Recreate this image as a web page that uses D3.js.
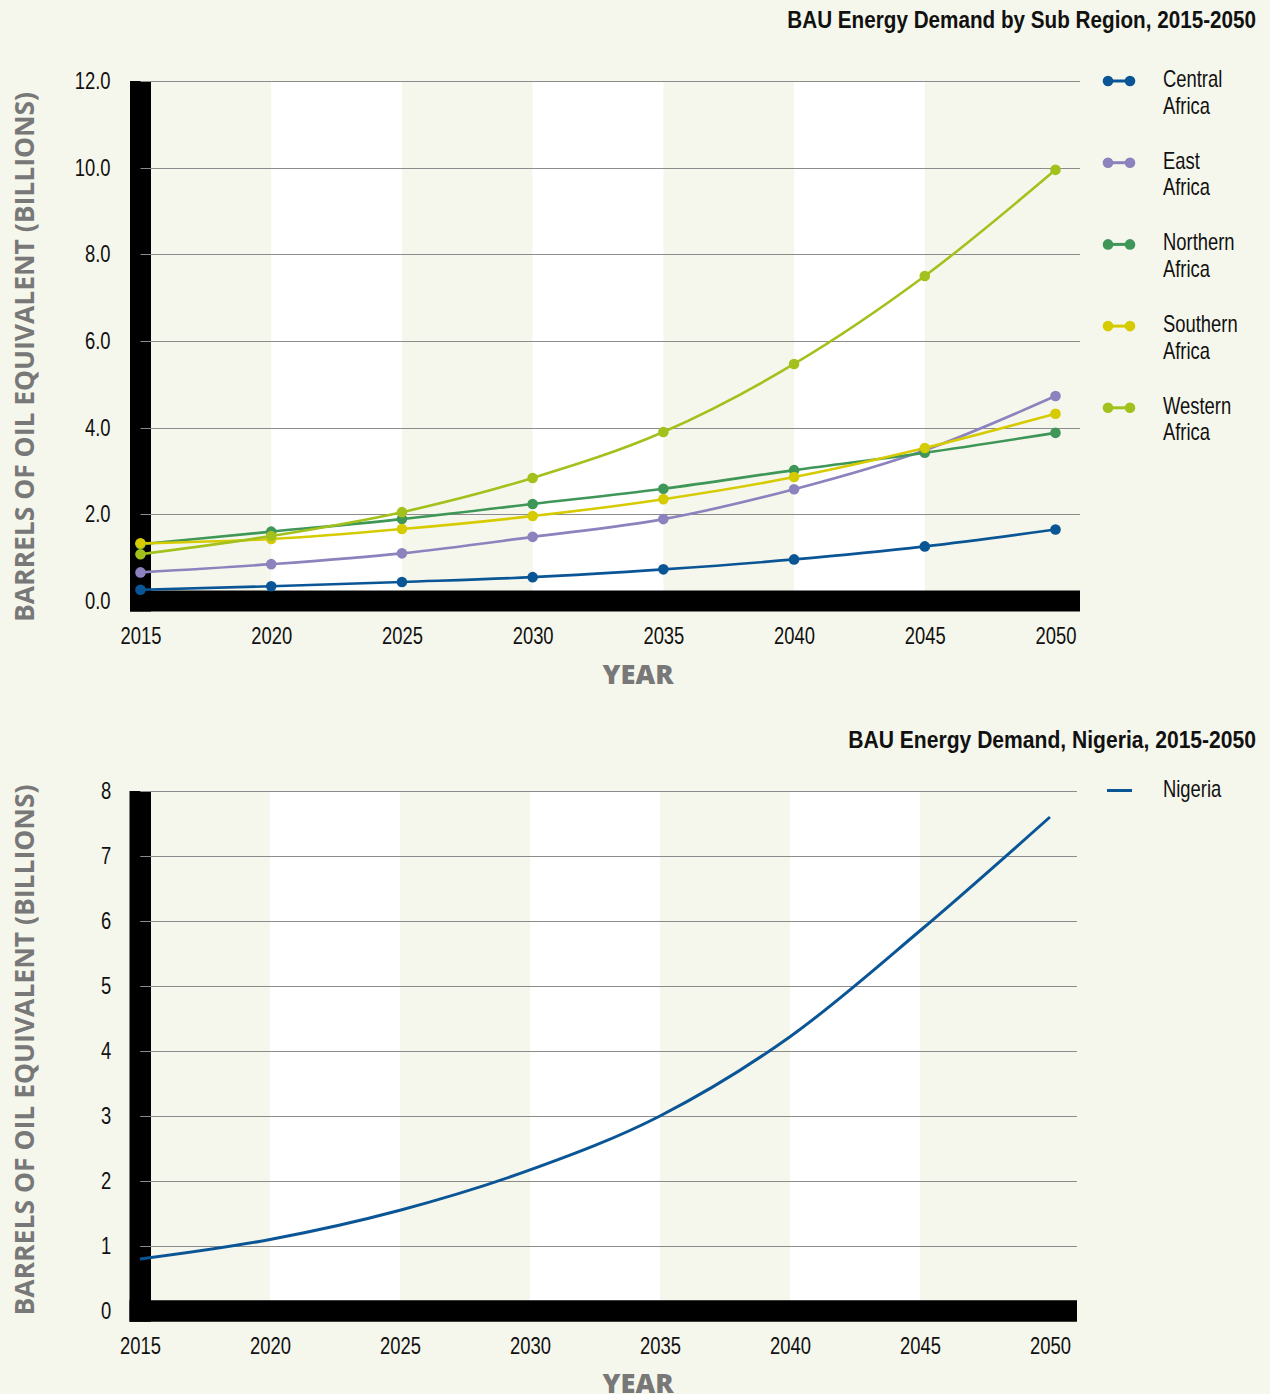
<!DOCTYPE html>
<html>
<head>
<meta charset="utf-8">
<script src="https://cdn.jsdelivr.net/npm/d3@7"></script>
<style>
  html, body { margin: 0; padding: 0; background: #f6f7ec; }
  svg { display: block; }
  text { font-family: "Liberation Sans", Arial, sans-serif; }
</style>
</head>
<body>
<svg id="chart" width="1270" height="1394"></svg>
<script>
// ---------- DATA ----------
const years = [2015, 2020, 2025, 2030, 2035, 2040, 2045, 2050];

const regionNames = ["Central Africa", "East Africa", "Northern Africa", "Southern Africa", "Western Africa"];
const centralAfrica  = [0.26, 0.34, 0.44, 0.55, 0.73, 0.96, 1.26, 1.65];
const eastAfrica     = [0.66, 0.85, 1.10, 1.48, 1.89, 2.58, 3.48, 4.73];
const northernAfrica = [1.31, 1.60, 1.89, 2.24, 2.59, 3.02, 3.42, 3.88];
const southernAfrica = [1.33, 1.43, 1.66, 1.96, 2.35, 2.86, 3.53, 4.32];
const westernAfrica  = [1.08, 1.50, 2.05, 2.84, 3.90, 5.47, 7.50, 9.95];
const regionColors = ["#0a5596", "#8b82be", "#3e9657", "#d6cb00", "#a2c11c"];

const nigeria = [0.80, 1.10, 1.55, 2.17, 3.00, 4.22, 5.85, 7.60];
const nigeriaColor = "#0a5596";

const topTicks = [0, 2, 4, 6, 8, 10, 12];
const bottomTicks = [0, 1, 2, 3, 4, 5, 6, 7, 8];

const topTitle = "BAU Energy Demand by Sub Region, 2015-2050";
const bottomTitle = "BAU Energy Demand, Nigeria, 2015-2050";
const yTitle = "BARRELS OF OIL EQUIVALENT (BILLIONS)";
const xTitle = "YEAR";

// ---------- DRAW ----------
const svg = d3.select("#chart");
const SQ = 0.8; // horizontal condensing of the narrow label font

function narrowText(parent, x, y, str, size, opts = {}) {
  const gg = parent.append("g").attr("transform", `translate(${x},${y})`);
  const t = gg.append("text")
    .attr("font-size", size)
    .attr("font-weight", opts.weight || 400)
    .attr("fill", opts.fill || "#111")
    .attr("text-anchor", opts.anchor || "start")
    .text(str);
  let s = SQ;
  if (opts.width) {
    const len = t.node().getComputedTextLength();
    s = opts.width / len;
  }
  t.attr("transform", `scale(${s},1)`);
  return t;
}

function drawPanel(cfg) {
  const g = svg.append("g");
  const x = d3.scaleLinear().domain([years[0], years[years.length - 1]]).range(cfg.xRange);
  const y = d3.scaleLinear().domain([0, d3.max(cfg.ticks)]).range(cfg.yRange);
  const left = cfg.barLeft, right = cfg.plotRight;
  const top = y(d3.max(cfg.ticks)), base = y(0);

  // alternating bands
  for (let i = 0; i < years.length - 1; i++) {
    if (i % 2 === 1) {
      g.append("rect")
        .attr("x", x(years[i])).attr("y", top)
        .attr("width", x(years[i + 1]) - x(years[i]))
        .attr("height", base - top)
        .attr("fill", "#ffffff");
    }
  }

  // black axis bars
  const bw = cfg.barWidth;
  g.append("rect").attr("x", left).attr("y", top).attr("width", bw).attr("height", base + bw / 2 - top).attr("fill", "#000");
  g.append("rect").attr("x", left).attr("y", base - bw / 2).attr("width", right - left).attr("height", bw).attr("fill", "#000");

  // gridlines
  g.append("g").selectAll("line")
    .data(cfg.ticks.filter(t => t > 0))
    .join("line")
    .attr("x1", left + bw / 2).attr("x2", right)
    .attr("y1", d => Math.round(y(d)) + 0.5).attr("y2", d => Math.round(y(d)) + 0.5)
    .attr("stroke", "#8c8c8c").attr("stroke-width", 1.2);

  // y axis
  const ya = g.append("g")
    .attr("transform", `translate(${left + bw / 2},0)`)
    .call(d3.axisLeft(y).tickValues(cfg.ticks).tickFormat(cfg.fmt).tickSize(0).tickPadding(cfg.yPad));
  ya.select(".domain").remove();
  ya.selectAll("text").attr("font-size", 23).attr("fill", "#111")
    .attr("x", -cfg.yPad / SQ)
    .attr("transform", `scale(${SQ},1)`);

  // x axis
  const xa = g.append("g")
    .attr("transform", `translate(0,${base})`)
    .call(d3.axisBottom(x).tickValues(years).tickFormat(d3.format("d")).tickSize(0).tickPadding(27));
  xa.select(".domain").remove();
  xa.selectAll("text").attr("font-size", 23).attr("fill", "#111")
    .attr("transform", `scale(${SQ},1)`);

  // axis titles
  g.append("text")
    .attr("transform", `translate(${cfg.yTitleX},${cfg.yTitleY}) rotate(-90)`)
    .attr("text-anchor", "middle")
    .attr("dy", "0.35em")
    .attr("font-size", 26).attr("font-weight", 700).attr("fill", "#787878")
    .attr("textLength", cfg.yTitleLen).attr("lengthAdjust", "spacingAndGlyphs")
    .style("font-family", '"Open Sans", "Liberation Sans", sans-serif')
    .text(yTitle);
  g.append("text")
    .attr("x", 638).attr("y", cfg.xTitleY)
    .attr("text-anchor", "middle")
    .attr("font-size", 27).attr("font-weight", 800).attr("fill", "#787878")
    .attr("textLength", 71).attr("lengthAdjust", "spacingAndGlyphs")
    .style("font-family", '"Open Sans", "Liberation Sans", sans-serif')
    .text(xTitle);

  // chart title
  narrowText(g, 1256, cfg.titleY, cfg.title, 24, { weight: 700, anchor: "end", width: cfg.titleLen });

  return { g, x, y };
}

// ---- Top panel ----
const topP = drawPanel({
  xRange: [140.5, 1055.5], yRange: [601, 81], ticks: topTicks, fmt: d3.format(".1f"),
  barLeft: 130, barWidth: 21, plotRight: 1080, yPad: 30,
  yTitleX: 25, yTitleY: 357, yTitleLen: 530, xTitleY: 684,
  titleY: 28, title: topTitle, titleLen: 469
});

const series = [centralAfrica, eastAfrica, northernAfrica, southernAfrica, westernAfrica];
const lineTop = d3.line().x((d, i) => topP.x(years[i])).y(d => topP.y(d)).curve(d3.curveMonotoneX);

series.forEach((vals, k) => {
  topP.g.append("path").datum(vals)
    .attr("d", lineTop).attr("fill", "none")
    .attr("stroke", regionColors[k]).attr("stroke-width", 2.6);
});
series.forEach((vals, k) => {
  topP.g.append("g").selectAll("circle").data(vals).join("circle")
    .attr("cx", (d, i) => topP.x(years[i])).attr("cy", d => topP.y(d))
    .attr("r", 5.3).attr("fill", regionColors[k]);
});

// legend (top)
const legTop = svg.append("g");
regionNames.forEach((name, k) => {
  const ly = 81 + k * 81.7;
  const item = legTop.append("g").attr("transform", `translate(0,${ly})`);
  item.append("line").attr("x1", 1108).attr("x2", 1130).attr("y1", 0).attr("y2", 0)
    .attr("stroke", regionColors[k]).attr("stroke-width", 3);
  item.append("circle").attr("cx", 1108).attr("cy", 0).attr("r", 5.3).attr("fill", regionColors[k]);
  item.append("circle").attr("cx", 1130).attr("cy", 0).attr("r", 5.3).attr("fill", regionColors[k]);
  const parts = name.split(" ");
  narrowText(item, 1163, 6, parts[0], 23);
  narrowText(item, 1163, 32.5, parts[1], 23);
});

// ---- Bottom panel ----
const botP = drawPanel({
  xRange: [140, 1050], yRange: [1311, 791], ticks: bottomTicks, fmt: d3.format("d"),
  barLeft: 129.5, barWidth: 21.5, plotRight: 1077, yPad: 29,
  yTitleX: 25, yTitleY: 1050, yTitleLen: 531, xTitleY: 1393,
  titleY: 748, title: bottomTitle, titleLen: 408
});

const lineBot = d3.line().x((d, i) => botP.x(years[i])).y(d => botP.y(d)).curve(d3.curveMonotoneX);
botP.g.append("path").datum(nigeria)
  .attr("d", lineBot).attr("fill", "none")
  .attr("stroke", nigeriaColor).attr("stroke-width", 3);

// legend (bottom)
svg.append("line").attr("x1", 1107).attr("x2", 1132).attr("y1", 790.5).attr("y2", 790.5)
  .attr("stroke", nigeriaColor).attr("stroke-width", 3);
narrowText(svg, 1163, 797, "Nigeria", 23);
</script>
</body>
</html>
